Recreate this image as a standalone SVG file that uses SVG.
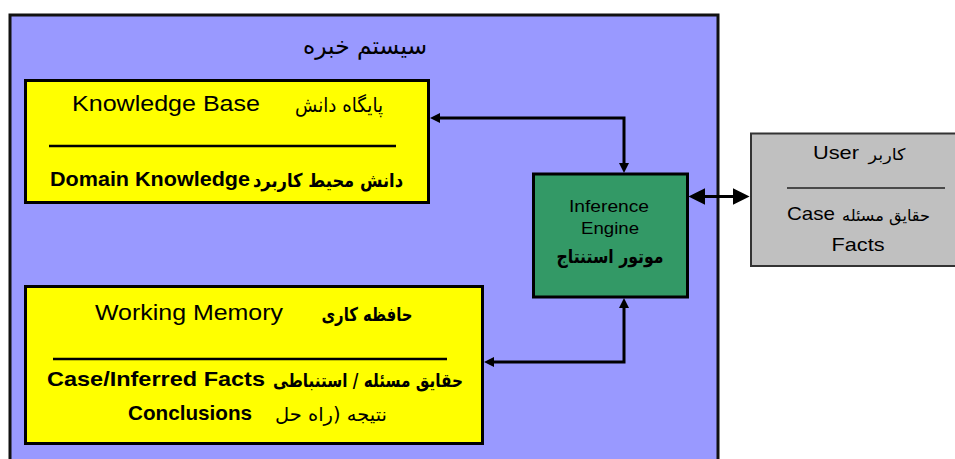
<svg xmlns="http://www.w3.org/2000/svg" width="955" height="459" viewBox="0 0 955 459">
<style>
.en{font-family:"Liberation Sans",Arial,sans-serif;fill:#000;text-anchor:middle}
.fa{font-family:"DejaVu Sans",sans-serif;fill:#000;text-anchor:middle}
.b{font-weight:bold}
.box{stroke:#000;stroke-width:3}
.conn{fill:none;stroke:#000;stroke-width:3}
</style>
<defs>
<marker id="ah" viewBox="0 0 10 10" refX="2" refY="5" markerWidth="10" markerHeight="10" markerUnits="userSpaceOnUse" orient="auto-start-reverse">
<path d="M0,0 L10,5 L0,10 z" fill="#000"/>
</marker>
<marker id="ahBig" viewBox="0 0 10 10" refX="2" refY="5" markerWidth="17" markerHeight="17" markerUnits="userSpaceOnUse" orient="auto-start-reverse">
<path d="M0,0 L10,5 L0,10 z" fill="#000"/>
</marker>
</defs>
<rect width="955" height="459" fill="#fff"/>
<g id="expert-system">
<rect x="10" y="15" width="708" height="460" fill="#9999FF" stroke="#111" stroke-width="3"/>
<text class="fa" x="365" y="54" font-size="24" textLength="124" lengthAdjust="spacingAndGlyphs">سیستم خبره</text>
</g>
<g id="knowledge-base">
<rect class="box" x="25.5" y="80.5" width="403" height="122" fill="#FFFF00"/>
<text class="en" x="166" y="111" font-size="22" textLength="188" lengthAdjust="spacingAndGlyphs">Knowledge Base</text>
<text class="fa" x="339" y="112" font-size="20" textLength="88" lengthAdjust="spacingAndGlyphs">پایگاه دانش</text>
<line x1="49" y1="146" x2="396" y2="146" stroke="#000" stroke-width="2.5"/>
<text class="en b" x="150" y="186" font-size="21" textLength="200" lengthAdjust="spacingAndGlyphs">Domain Knowledge</text>
<text class="fa b" x="328" y="187" font-size="19" textLength="150" lengthAdjust="spacingAndGlyphs">دانش محیط کاربرد</text>
</g>
<g id="working-memory">
<rect class="box" x="25.5" y="286.5" width="457" height="157" fill="#FFFF00"/>
<text class="en" x="189" y="320" font-size="22" textLength="188" lengthAdjust="spacingAndGlyphs">Working Memory</text>
<text class="fa b" x="367" y="321" font-size="19" textLength="91" lengthAdjust="spacingAndGlyphs">حافظه کاری</text>
<line x1="53" y1="359" x2="447" y2="359" stroke="#000" stroke-width="2.5"/>
<text class="en b" x="156" y="386" font-size="21" textLength="218" lengthAdjust="spacingAndGlyphs">Case/Inferred Facts</text>
<text class="fa b" x="368" y="387" font-size="19" textLength="190" lengthAdjust="spacingAndGlyphs">حقایق مسئله / استنباطی</text>
<text class="en b" x="190" y="420" font-size="21" textLength="124" lengthAdjust="spacingAndGlyphs">Conclusions</text>
<text class="fa" x="331" y="421" font-size="19" textLength="112" lengthAdjust="spacingAndGlyphs">نتیجه (راه حل</text>
</g>
<g id="inference-engine">
<rect class="box" x="533.5" y="174" width="154" height="123" fill="#339966"/>
<text class="en" x="609" y="212" font-size="17" textLength="80" lengthAdjust="spacingAndGlyphs">Inference</text>
<text class="en" x="610" y="234" font-size="17" textLength="58" lengthAdjust="spacingAndGlyphs">Engine</text>
<text class="fa b" x="610" y="263" font-size="19" textLength="107" lengthAdjust="spacingAndGlyphs">موتور استنتاج</text>
</g>
<g id="user">
<rect x="751" y="133.5" width="215" height="132.5" fill="#C0C0C0" stroke="#333" stroke-width="2"/>
<text class="en" x="836" y="159" font-size="19" textLength="46" lengthAdjust="spacingAndGlyphs">User</text>
<text class="fa" x="887" y="160" font-size="16" textLength="37" lengthAdjust="spacingAndGlyphs">کاربر</text>
<line x1="787" y1="188" x2="945" y2="188" stroke="#222" stroke-width="1.5"/>
<text class="en" x="811" y="220" font-size="19" textLength="48" lengthAdjust="spacingAndGlyphs">Case</text>
<text class="fa" x="886" y="221" font-size="16" textLength="88" lengthAdjust="spacingAndGlyphs">حقایق مسئله</text>
<text class="en" x="858" y="251" font-size="19" textLength="53" lengthAdjust="spacingAndGlyphs">Facts</text>
</g>
<g id="connectors">
<path class="conn" d="M438,118 H624 V165" marker-start="url(#ah)" marker-end="url(#ah)"/>
<path class="conn" d="M492,362 H624 V306" marker-start="url(#ah)" marker-end="url(#ah)"/>
<path class="conn" stroke-width="4" d="M702,196.5 H736" marker-start="url(#ahBig)" marker-end="url(#ahBig)"/>
</g>
</svg>
